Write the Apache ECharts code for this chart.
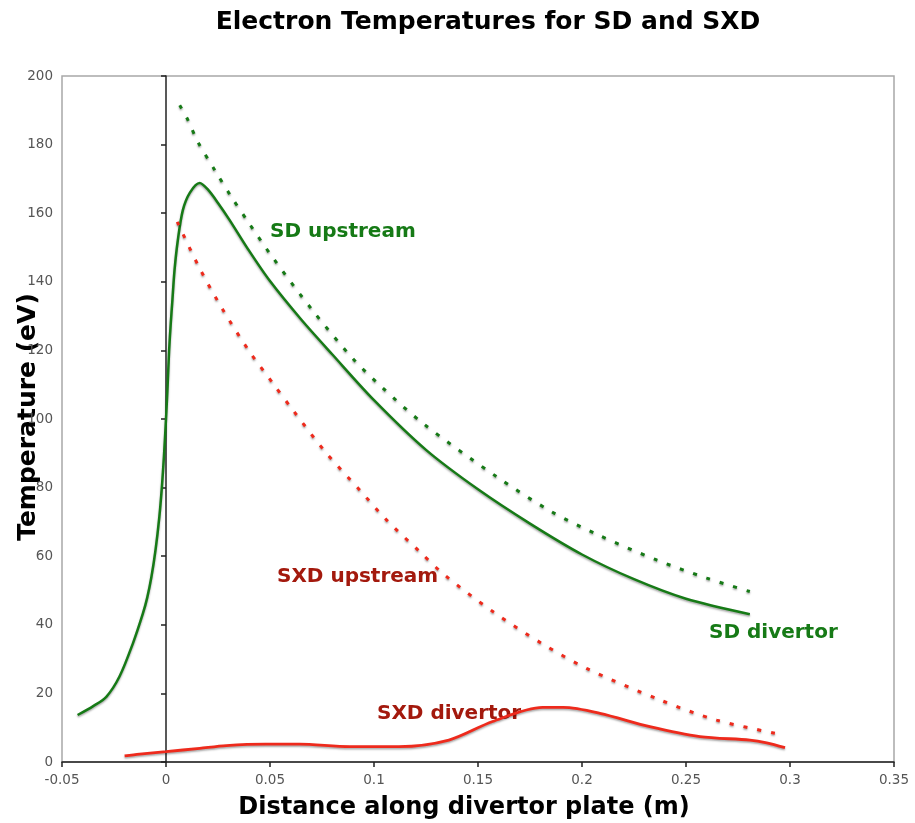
<!DOCTYPE html>
<html><head><meta charset="utf-8">
<script src="https://cdn.jsdelivr.net/npm/echarts@6/dist/echarts.min.js"></script>
<style>html,body{margin:0;padding:0;background:#fff}#c{width:915px;height:823px}</style>
</head><body><div id="c"></div>
<script>
const sdDivertor = [[-0.0425,13.7],[-0.035,16.3],[-0.0287,19],[-0.0223,25],[-0.0159,34.6],[-0.0111,43.3],[-0.009,48],[-0.007,54],[-0.005,62],[-0.0032,71.5],[-0.002,80],[-0.001,89],[0,100],[0.0008,110],[0.0015,120],[0.0023,128],[0.003,134],[0.0041,143.4],[0.0057,152.2],[0.0081,160.9],[0.0115,166],[0.0162,168.8],[0.02,167],[0.025,163],[0.0306,158],[0.04,149],[0.05,140.2],[0.065,129],[0.08,118.8],[0.1,105.5],[0.125,91],[0.15,79.5],[0.175,69.5],[0.2,60.5],[0.225,53.3],[0.25,47.6],[0.2807,43.1]];
const sdUpstream = [[0.0066,191.5],[0.0105,187.2],[0.0153,180.8],[0.0234,172.6],[0.0314,164.8],[0.04,157],[0.0514,147],[0.0707,131.5],[0.09,117.5],[0.1036,109.4],[0.1236,98.7],[0.1589,83.2],[0.1853,73],[0.2078,66.2],[0.2359,58.9],[0.26,53.6],[0.2807,49.7]];
const sxdUpstream = [[0.0054,157.5],[0.0162,143.9],[0.0274,131.8],[0.0402,119.6],[0.0514,110.4],[0.061,102.6],[0.0765,90.5],[0.0931,79.3],[0.106,70.6],[0.122,61.3],[0.134,54.5],[0.1573,43.8],[0.1806,34.6],[0.2022,27.3],[0.2375,18.1],[0.2647,12.2],[0.2968,7.9]];
const sxdDivertor = [[-0.0199,1.8],[-0.0127,2.3],[0,3],[0.0162,4],[0.029,4.8],[0.048,5.2],[0.064,5.2],[0.0883,4.5],[0.112,4.5],[0.136,6.4],[0.157,11.8],[0.181,15.9],[0.191,15.9],[0.2086,14.2],[0.2326,10.3],[0.2567,7.4],[0.2807,6.4],[0.2888,5.6],[0.2976,4.2]];
const seriesNames = ['SD divertor','SD upstream','SXD upstream','SXD divertor'];
const titleText = 'Electron Temperatures for SD and SXD';
const xTitle = 'Distance along divertor plate (m)';
const yTitle = 'Temperature (eV)';

const GREEN = '#167a16', RED = '#ee2a1c', DRED = '#a3190d';
const FONT = '"DejaVu Sans", Verdana, sans-serif';
const shadow = {shadowColor:'rgba(0,0,0,0.35)', shadowBlur:2, shadowOffsetY:1.5};

const chart = echarts.init(document.getElementById('c'), null, {renderer:'canvas'});
chart.setOption({
  animation:false,
  backgroundColor:'#fff',
  grid:{left:62, top:76, width:832, height:686, show:true, borderColor:'#a8a8a8', borderWidth:1.5, backgroundColor:'transparent'},
  xAxis:{type:'value', min:-0.05, max:0.35, interval:0.05,
    axisLine:{show:true, onZero:false, lineStyle:{color:'#222', width:1.5}},
    axisTick:{show:true, inside:false, length:5, lineStyle:{color:'#222', width:1.5}},
    axisLabel:{color:'#555', fontFamily:FONT, fontSize:13.5, margin:11, formatter:v=>String(parseFloat(v.toFixed(2)))},
    splitLine:{show:false}},
  yAxis:{type:'value', min:0, max:200, interval:20,
    axisLine:{show:true, onZero:true, lineStyle:{color:'#222', width:1.5}},
    axisTick:{show:true, inside:false, length:5, lineStyle:{color:'#222', width:1.5}},
    axisLabel:{color:'#555', fontFamily:FONT, fontSize:13.5, margin:9},
    splitLine:{show:false}},
  series:[
    {name:seriesNames[0], type:'line', data:sdDivertor, smooth:0.3, symbol:'none', lineStyle:Object.assign({color:GREEN, width:2.5}, shadow)},
    {name:seriesNames[1], type:'line', data:sdUpstream, smooth:0.3, symbol:'none', lineStyle:Object.assign({color:GREEN, width:3, type:[4,10]}, shadow)},
    {name:seriesNames[2], type:'line', data:sxdUpstream, smooth:0.3, symbol:'none', lineStyle:Object.assign({color:RED, width:3, type:[4,10]}, shadow)},
    {name:seriesNames[3], type:'line', data:sxdDivertor, smooth:0.3, symbol:'none', lineStyle:Object.assign({color:RED, width:2.8}, shadow)}
  ],
  graphic:[
    {type:'text', x:488, y:22, style:{text:titleText, font:'bold 25px '+FONT, fill:'#000', align:'center', verticalAlign:'middle'}},
    {type:'text', x:464, y:808, style:{text:xTitle, font:'bold 24px '+FONT, fill:'#000', align:'center', verticalAlign:'middle'}},
    {type:'text', x:28, y:417, rotation:Math.PI/2, style:{text:yTitle, font:'bold 25px '+FONT, fill:'#000', align:'center', verticalAlign:'middle'}},
    {type:'text', x:270, y:232, style:{text:'SD upstream', font:'bold 20px '+FONT, fill:GREEN, verticalAlign:'middle'}},
    {type:'text', x:709, y:633, style:{text:'SD divertor', font:'bold 20px '+FONT, fill:GREEN, verticalAlign:'middle'}},
    {type:'text', x:277, y:577, style:{text:'SXD upstream', font:'bold 20px '+FONT, fill:DRED, verticalAlign:'middle'}},
    {type:'text', x:377, y:714, style:{text:'SXD divertor', font:'bold 20px '+FONT, fill:DRED, verticalAlign:'middle'}}
  ]
});
</script></body></html>
